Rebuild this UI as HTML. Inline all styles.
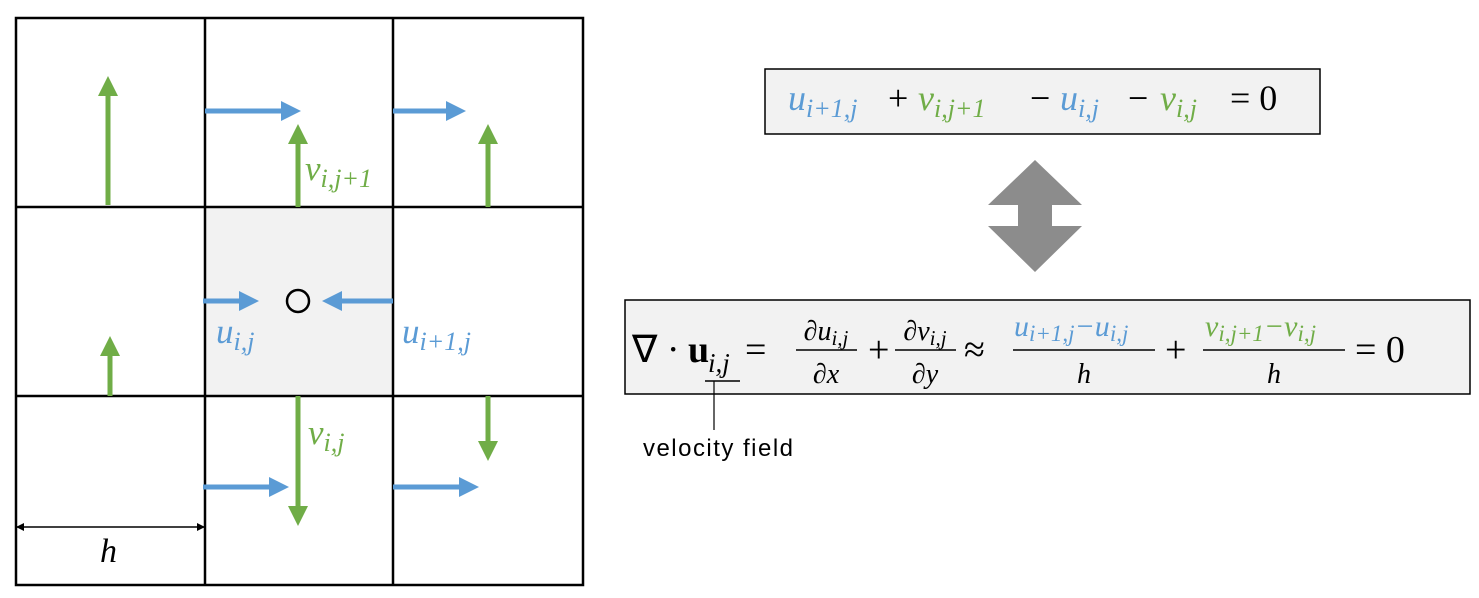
<!DOCTYPE html>
<html><head><meta charset="utf-8"><style>
body{margin:0;background:#fff;width:1479px;height:598px;overflow:hidden}
svg{display:block}
.m{font-family:"Liberation Serif",serif;font-style:italic}
.r{font-family:"Liberation Serif",serif}
</style></head><body>
<svg width="1479" height="598" viewBox="0 0 1479 598">
<defs>
<marker id="hb" markerWidth="4" markerHeight="4" refX="2" refY="2" orient="auto" markerUnits="strokeWidth"><path d="M0,0 L4,2 L0,4Z" fill="#5b9bd5"/></marker>
<marker id="hg" markerWidth="4" markerHeight="4" refX="2" refY="2" orient="auto" markerUnits="strokeWidth"><path d="M0,0 L4,2 L0,4Z" fill="#70ad47"/></marker>
<marker id="hk" markerWidth="8" markerHeight="8" refX="7" refY="4" orient="auto" markerUnits="userSpaceOnUse"><path d="M0,0 L8,4 L0,8Z" fill="#000"/></marker>
<marker id="hk2" markerWidth="8" markerHeight="8" refX="1" refY="4" orient="auto" markerUnits="userSpaceOnUse"><path d="M8,0 L0,4 L8,8Z" fill="#000"/></marker>
</defs>
<rect x="205" y="207" width="188" height="189" fill="#f2f2f2"/>
<g stroke="#000" stroke-width="2.5" fill="none">
<rect x="16" y="18" width="567" height="567"/>
<line x1="205" y1="18" x2="205" y2="585"/><line x1="393" y1="18" x2="393" y2="585"/>
<line x1="16" y1="207" x2="583" y2="207"/><line x1="16" y1="396" x2="583" y2="396"/>
</g>
<g stroke-width="5">
<line x1="108" y1="205" x2="108" y2="86" stroke="#70ad47" marker-end="url(#hg)"/>
<line x1="205" y1="111" x2="291" y2="111" stroke="#5b9bd5" marker-end="url(#hb)"/>
<line x1="298" y1="207" x2="298" y2="134" stroke="#70ad47" marker-end="url(#hg)"/>
<line x1="393" y1="111" x2="456" y2="111" stroke="#5b9bd5" marker-end="url(#hb)"/>
<line x1="488" y1="207" x2="488" y2="134" stroke="#70ad47" marker-end="url(#hg)"/>
<line x1="203" y1="301" x2="249" y2="301" stroke="#5b9bd5" marker-end="url(#hb)"/>
<line x1="393" y1="301" x2="332" y2="301" stroke="#5b9bd5" marker-end="url(#hb)"/>
<line x1="110" y1="396" x2="110" y2="346" stroke="#70ad47" marker-end="url(#hg)"/>
<line x1="298" y1="396" x2="298" y2="516" stroke="#70ad47" marker-end="url(#hg)"/>
<line x1="203" y1="487" x2="279" y2="487" stroke="#5b9bd5" marker-end="url(#hb)"/>
<line x1="488" y1="396" x2="488" y2="451" stroke="#70ad47" marker-end="url(#hg)"/>
<line x1="393" y1="487" x2="469" y2="487" stroke="#5b9bd5" marker-end="url(#hb)"/>
</g>
<circle cx="298" cy="301" r="11" fill="none" stroke="#000" stroke-width="2.5"/>
<line x1="17" y1="527" x2="204" y2="527" stroke="#000" stroke-width="1.5" marker-end="url(#hk)" marker-start="url(#hk2)"/>
<text x="100" y="562" class="m" font-size="34">h</text>
<text x="305" y="180" class="m" font-size="35" fill="#70ad47">v<tspan font-size="26" dy="7">i,j+1</tspan></text>
<text x="216" y="343" class="m" font-size="35" fill="#5b9bd5">u<tspan font-size="26" dy="7">i,j</tspan></text>
<text x="402" y="343" class="m" font-size="35" fill="#5b9bd5">u<tspan font-size="26" dy="7">i+1,j</tspan></text>
<text x="308" y="444" class="m" font-size="35" fill="#70ad47">v<tspan font-size="26" dy="7">i,j</tspan></text>

<g>
<rect x="765" y="69" width="555" height="65" fill="#f2f2f2" stroke="#000" stroke-width="1.5"/>
<text x="788" y="110" class="m" font-size="36" fill="#5b9bd5">u<tspan font-size="26" dy="7">i+1,j</tspan></text>
<text x="888" y="110" class="r" font-size="36">+</text>
<text x="918" y="110" class="m" font-size="36" fill="#70ad47">v<tspan font-size="26" dy="7">i,j+1</tspan></text>
<text x="1030" y="110" class="r" font-size="36">−</text>
<text x="1060" y="110" class="m" font-size="36" fill="#5b9bd5">u<tspan font-size="26" dy="7">i,j</tspan></text>
<text x="1128" y="110" class="r" font-size="36">−</text>
<text x="1160" y="110" class="m" font-size="36" fill="#70ad47">v<tspan font-size="26" dy="7">i,j</tspan></text>
<text x="1230" y="110" class="r" font-size="36">= 0</text>
</g>
<path d="M1035,160 L1082,205 L1052,205 L1052,226 L1082,226 L1035,272 L988,226 L1018,226 L1018,205 L988,205Z" fill="#8c8c8c"/>

<g>
<rect x="625" y="300" width="845" height="94" fill="#f2f2f2" stroke="#000" stroke-width="1.5"/>
<text x="632" y="362" class="r" font-size="38">∇ ·</text>
<text x="688" y="362" class="r" font-size="38" font-weight="bold">u</text>
<text x="708" y="372" class="m" font-size="27">i,j</text>
<text x="745" y="362" class="r" font-size="38">=</text>
<text x="826" y="340" class="m" font-size="28" text-anchor="middle">∂u<tspan font-size="21" dy="5">i,j</tspan></text>
<line x1="796" y1="350" x2="857" y2="350" stroke="#000" stroke-width="1.5"/>
<text x="826" y="383" class="m" font-size="28" text-anchor="middle">∂x</text>
<text x="868" y="362" class="r" font-size="38">+</text>
<text x="925" y="340" class="m" font-size="28" text-anchor="middle">∂v<tspan font-size="21" dy="5">i,j</tspan></text>
<line x1="895" y1="350" x2="956" y2="350" stroke="#000" stroke-width="1.5"/>
<text x="925" y="383" class="m" font-size="28" text-anchor="middle">∂y</text>
<text x="964" y="362" class="r" font-size="38">≈</text>
<text x="1014" y="336" class="m" font-size="30" fill="#5b9bd5">u<tspan font-size="23" dy="5">i+1,j</tspan><tspan font-size="30" dy="-5">−u</tspan><tspan font-size="23" dy="5">i,j</tspan></text>
<line x1="1013" y1="350" x2="1155" y2="350" stroke="#000" stroke-width="1.5"/>
<text x="1084" y="383" class="m" font-size="28" text-anchor="middle">h</text>
<text x="1165" y="362" class="r" font-size="38">+</text>
<text x="1205" y="336" class="m" font-size="30" fill="#70ad47">v<tspan font-size="23" dy="5">i,j+1</tspan><tspan font-size="30" dy="-5">−v</tspan><tspan font-size="23" dy="5">i,j</tspan></text>
<line x1="1203" y1="350" x2="1345" y2="350" stroke="#000" stroke-width="1.5"/>
<text x="1274" y="383" class="m" font-size="28" text-anchor="middle">h</text>
<text x="1355" y="362" class="r" font-size="38">= 0</text>
</g>
<line x1="705" y1="381" x2="740" y2="381" stroke="#000" stroke-width="1.5"/>
<line x1="714" y1="381" x2="714" y2="430" stroke="#000" stroke-width="1.2"/>
<text x="643" y="456" font-family="Liberation Sans, sans-serif" font-size="24" textLength="150">velocity field</text>
</svg>
</body></html>
